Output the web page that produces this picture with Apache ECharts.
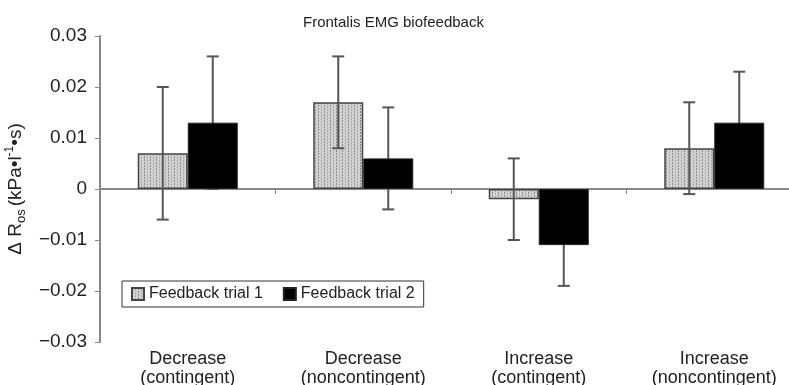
<!DOCTYPE html>
<html>
<head>
<meta charset="utf-8">
<script src="https://cdn.jsdelivr.net/npm/echarts@6/dist/echarts.min.js"></script>
<style>
  html, body { margin: 0; padding: 0; background: #fff; }
  #chart { width: 789px; height: 385px; }
</style>
</head>
<body>
<div id="chart"></div>
<script>
// data
var categories = ["Decrease\n(contingent)", "Decrease\n(noncontingent)", "Increase\n(contingent)", "Increase\n(noncontingent)"];
var trial1 = [0.007, 0.017, -0.002, 0.008];
var trial1Err = [0.013, 0.009, 0.008, 0.009];
var trial2 = [0.013, 0.006, -0.011, 0.013];
var trial2Err = [0.013, 0.010, 0.008, 0.010];
var yTicks = [-0.03, -0.02, -0.01, 0, 0.01, 0.02, 0.03];

var FONT = "Liberation Sans";
var BAR_W = 50;      // px
var BAND = 175.5;    // px per category in the original figure
var GRID_W = 689;    // plot cut off at the right edge of the picture
var X_MIN = -0.5;
var X_MAX = X_MIN + GRID_W / BAND;

// gray dotted-stripe fill for trial 1
function makePattern() {
  var c = document.createElement("canvas");
  c.width = 6;
  c.height = 3;
  var ctx = c.getContext("2d");
  ctx.fillStyle = "#d2d2d2";
  ctx.fillRect(0, 0, 6, 3);
  ctx.fillStyle = "#8c8c8c";
  ctx.fillRect(0, 0, 1, 2);
  ctx.fillStyle = "#a8a8a8";
  ctx.fillRect(3, 1, 1, 2);
  return c;
}

function errRender(sign) {
  return function (params, api) {
    var i = api.value(0), v = api.value(1), e = api.value(2);
    var hi = api.coord([i, v + e]);
    var lo = api.coord([i, v - e]);
    var x = hi[0] + sign * BAR_W / 2;
    var st = { stroke: "#555", lineWidth: 2 };
    return {
      type: "group",
      children: [
        { type: "line", shape: { x1: x, y1: hi[1], x2: x, y2: lo[1] }, style: st },
        { type: "line", shape: { x1: x - 6, y1: hi[1], x2: x + 6, y2: hi[1] }, style: st },
        { type: "line", shape: { x1: x - 6, y1: lo[1], x2: x + 6, y2: lo[1] }, style: st }
      ]
    };
  };
}

var chart = echarts.init(document.getElementById("chart"));
chart.setOption({
  animation: false,
  textStyle: { fontFamily: FONT },
  title: {
    text: "Frontalis EMG biofeedback",
    left: 298,
    top: 10,
    textStyle: { fontSize: 15, fontWeight: "normal", color: "#222", fontFamily: FONT }
  },
  grid: { left: 100, right: 0, top: 36, bottom: 43, outerBoundsMode: "none" },
  legend: {
    data: ["Feedback trial 1", "Feedback trial 2"],
    left: 122,
    top: 281,
    orient: "horizontal",
    icon: "rect",
    itemWidth: 12,
    itemHeight: 12,
    itemGap: 20,
    padding: [5, 9, 5, 9],
    borderColor: "#333",
    borderWidth: 1,
    backgroundColor: "#fff",
    textStyle: { fontSize: 16, color: "#222", fontFamily: FONT }
  },
  xAxis: [
    {
      // zero line with ticks between the groups
      type: "value",
      min: X_MIN,
      max: X_MAX,
      interval: 1,
      axisLine: { onZero: true, lineStyle: { color: "#888", width: 2 } },
      axisTick: { show: true, length: 5, lineStyle: { color: "#888", width: 1 } },
      axisLabel: { show: false },
      splitLine: { show: false }
    },
    {
      // group names along the bottom
      type: "value",
      min: X_MIN,
      max: X_MAX,
      interval: 0.5,
      position: "bottom",
      axisLine: { show: false, onZero: false },
      axisTick: { show: false },
      splitLine: { show: false },
      axisLabel: {
        margin: 8,
        fontSize: 18,
        lineHeight: 19,
        color: "#222",
        fontFamily: FONT,
        showMinLabel: true,
        showMaxLabel: true,
        formatter: function (v) {
          var r = Math.round(v);
          return Math.abs(v - r) < 1e-6 && categories[r] ? categories[r] : "";
        }
      }
    }
  ],
  yAxis: {
    type: "value",
    min: -0.03,
    max: 0.03,
    interval: 0.01,
    name: "{n|\u0394 R}{sub|os}{n|(kPa\u2022l}{sup|-1}{n|\u2022s)}",
    nameLocation: "middle",
    nameRotate: 90,
    nameGap: 72,
    nameTextStyle: {
      rich: {
        n: { fontSize: 19, color: "#222", lineHeight: 24, fontFamily: FONT },
        sub: { fontSize: 13, color: "#222", lineHeight: 24, verticalAlign: "bottom", padding: [0, 3, 0, 0], fontFamily: FONT },
        sup: { fontSize: 12, color: "#222", lineHeight: 24, verticalAlign: "top", fontFamily: FONT }
      }
    },
    axisLine: { show: true, onZero: false, lineStyle: { color: "#888", width: 2 } },
    axisTick: { show: true, length: 5, lineStyle: { color: "#888", width: 1 } },
    splitLine: { show: false },
    axisLabel: {
      margin: 13,
      fontSize: 19,
      color: "#222",
      fontFamily: FONT,
      formatter: function (v) {
        var r = Math.round(v * 100);
        var tick = yTicks.filter(function (t) { return Math.round(t * 100) === r; })[0];
        if (tick === 0) return "0";
        return tick < 0 ? "\u2212" + (-tick).toFixed(2) : tick.toFixed(2);
      }
    }
  },
  series: [
    {
      name: "Feedback trial 1",
      type: "bar",
      data: trial1.map(function (v, i) { return [i, v]; }),
      barWidth: BAR_W,
      barGap: "0%",
      z: 2,
      itemStyle: {
        color: { image: makePattern(), repeat: "repeat" },
        borderColor: "#444",
        borderWidth: 1.5
      }
    },
    {
      name: "Feedback trial 2",
      type: "bar",
      data: trial2.map(function (v, i) { return [i, v]; }),
      barWidth: BAR_W,
      barGap: "0%",
      z: 2,
      itemStyle: { color: "#000", borderColor: "#222", borderWidth: 1 }
    },
    {
      type: "custom",
      renderItem: errRender(-1),
      data: trial1.map(function (v, i) { return [i, v, trial1Err[i]]; }),
      z: 10,
      silent: true
    },
    {
      // drawn under the black bars, so only the outer part shows
      type: "custom",
      renderItem: errRender(1),
      data: trial2.map(function (v, i) { return [i, v, trial2Err[i]]; }),
      z: 1,
      silent: true
    }
  ]
});
</script>
</body>
</html>
